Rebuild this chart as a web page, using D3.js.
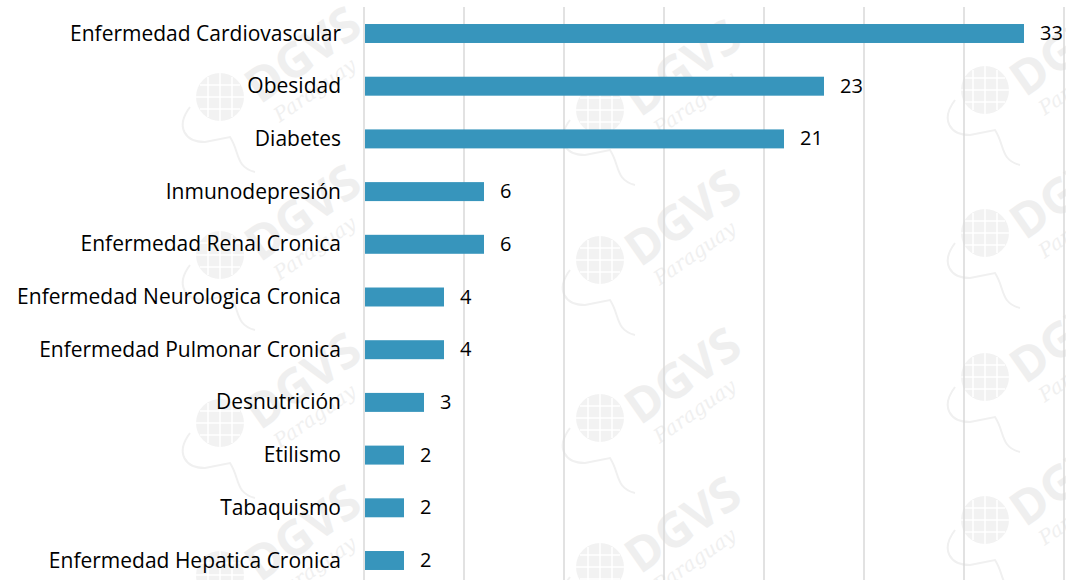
<!DOCTYPE html>
<html>
<head>
<meta charset="utf-8">
<script src="https://cdn.jsdelivr.net/npm/d3@7"></script>
<style>
  html, body { margin: 0; padding: 0; background: #fff; }
  svg { display: block; font-family: "Open Sans", "Noto Sans", sans-serif; }
</style>
</head>
<body>
<div id="chart"></div>
<script>
// categories, top to bottom
var categories = [
  "Enfermedad Cardiovascular",
  "Obesidad",
  "Diabetes",
  "Inmunodepresión",
  "Enfermedad Renal Cronica",
  "Enfermedad Neurologica Cronica",
  "Enfermedad Pulmonar Cronica",
  "Desnutrición",
  "Etilismo",
  "Tabaquismo",
  "Enfermedad Hepatica Cronica"
];
var values = [33, 23, 21, 6, 6, 4, 4, 3, 2, 2, 2];
var gridTicks = [0, 5, 10, 15, 20, 25, 30, 35];

// watermark spots (globe centres)
var markX = [220, 600, 985];
var markY = [
  [97, 255, 423, 575],
  [110, 260, 418, 567],
  [90, 233, 377, 520]
];

var w = 1066;
var h = 580;

var svg = d3.select("#chart")
  .append("svg")
  .attr("width", w)
  .attr("height", h);

var x = d3.scaleLinear().domain([0, 35]).range([364, 1064]);
var y = d3.scaleBand()
  .domain(categories)
  .range([7.15, 586.85])
  .paddingInner(0.64)
  .paddingOuter(0.32);

// watermark layer
var wm = svg.append("g").attr("class", "watermark");
markX.forEach(function(mx, ci) {
  markY[ci].forEach(function(my) {
    var g = wm.append("g").attr("transform", "translate(" + mx + "," + my + ")");
    g.append("circle").attr("r", 24).style("fill", "#f2f2f2");
    g.append("path")
      .attr("d", "M-24,0 H24 M0,-24 V24 M-20,-12 H20 M-20,12 H20 M-12,-20 V20 M12,-20 V20")
      .style("stroke", "#fff").style("stroke-width", 1.5).style("fill", "none");
    g.append("path")
      .attr("d", "M-30,10 C-45,30 -35,45 -15,45 L10,40 C20,55 15,70 35,75")
      .style("stroke", "#f0f0f0").style("stroke-width", 2).style("fill", "none");
    var t = g.append("g").attr("transform", "translate(40,8) rotate(-35)");
    t.append("text")
      .attr("x", 0).attr("y", 0)
      .style("font-family", "'Open Sans', sans-serif")
      .style("font-weight", "bold")
      .style("font-size", "48px")
      .style("fill", "#efefef")
      .text("DGVS");
    t.append("text")
      .attr("x", 6).attr("y", 26)
      .style("font-family", "'DejaVu Serif', serif")
      .style("font-style", "italic")
      .style("font-size", "20px")
      .style("fill", "#f0f0f0")
      .text("Paraguay");
  });
});

// gridlines
svg.append("g")
  .selectAll("line")
  .data(gridTicks)
  .enter().append("line")
  .attr("x1", function(d) { return x(d); })
  .attr("x2", function(d) { return x(d); })
  .attr("y1", 7)
  .attr("y2", h)
  .style("stroke", "#d9d9d9")
  .style("stroke-width", 1.5);

// bars
svg.append("g")
  .selectAll("rect")
  .data(values)
  .enter().append("rect")
  .attr("x", x(0) + 1)
  .attr("y", function(d, i) { return y(categories[i]); })
  .attr("width", function(d) { return x(d) - x(0) - 1; })
  .attr("height", y.bandwidth())
  .style("fill", "#3795bc");

// value labels
svg.append("g")
  .selectAll("text")
  .data(values)
  .enter().append("text")
  .attr("x", function(d) { return x(d) + 16; })
  .attr("y", function(d, i) { return y(categories[i]) + y.bandwidth() / 2 - 1; })
  .attr("dominant-baseline", "central")
  .style("font-size", "20px")
  .style("fill", "#000")
  .text(function(d) { return d; });

// category labels
svg.append("g")
  .selectAll("text")
  .data(categories)
  .enter().append("text")
  .attr("x", 341)
  .attr("y", function(d) { return y(d) + y.bandwidth() / 2 - 1; })
  .attr("text-anchor", "end")
  .attr("dominant-baseline", "central")
  .style("font-size", "21px")
  .style("fill", "#000")
  .text(function(d) { return d; });
</script>
</body>
</html>
